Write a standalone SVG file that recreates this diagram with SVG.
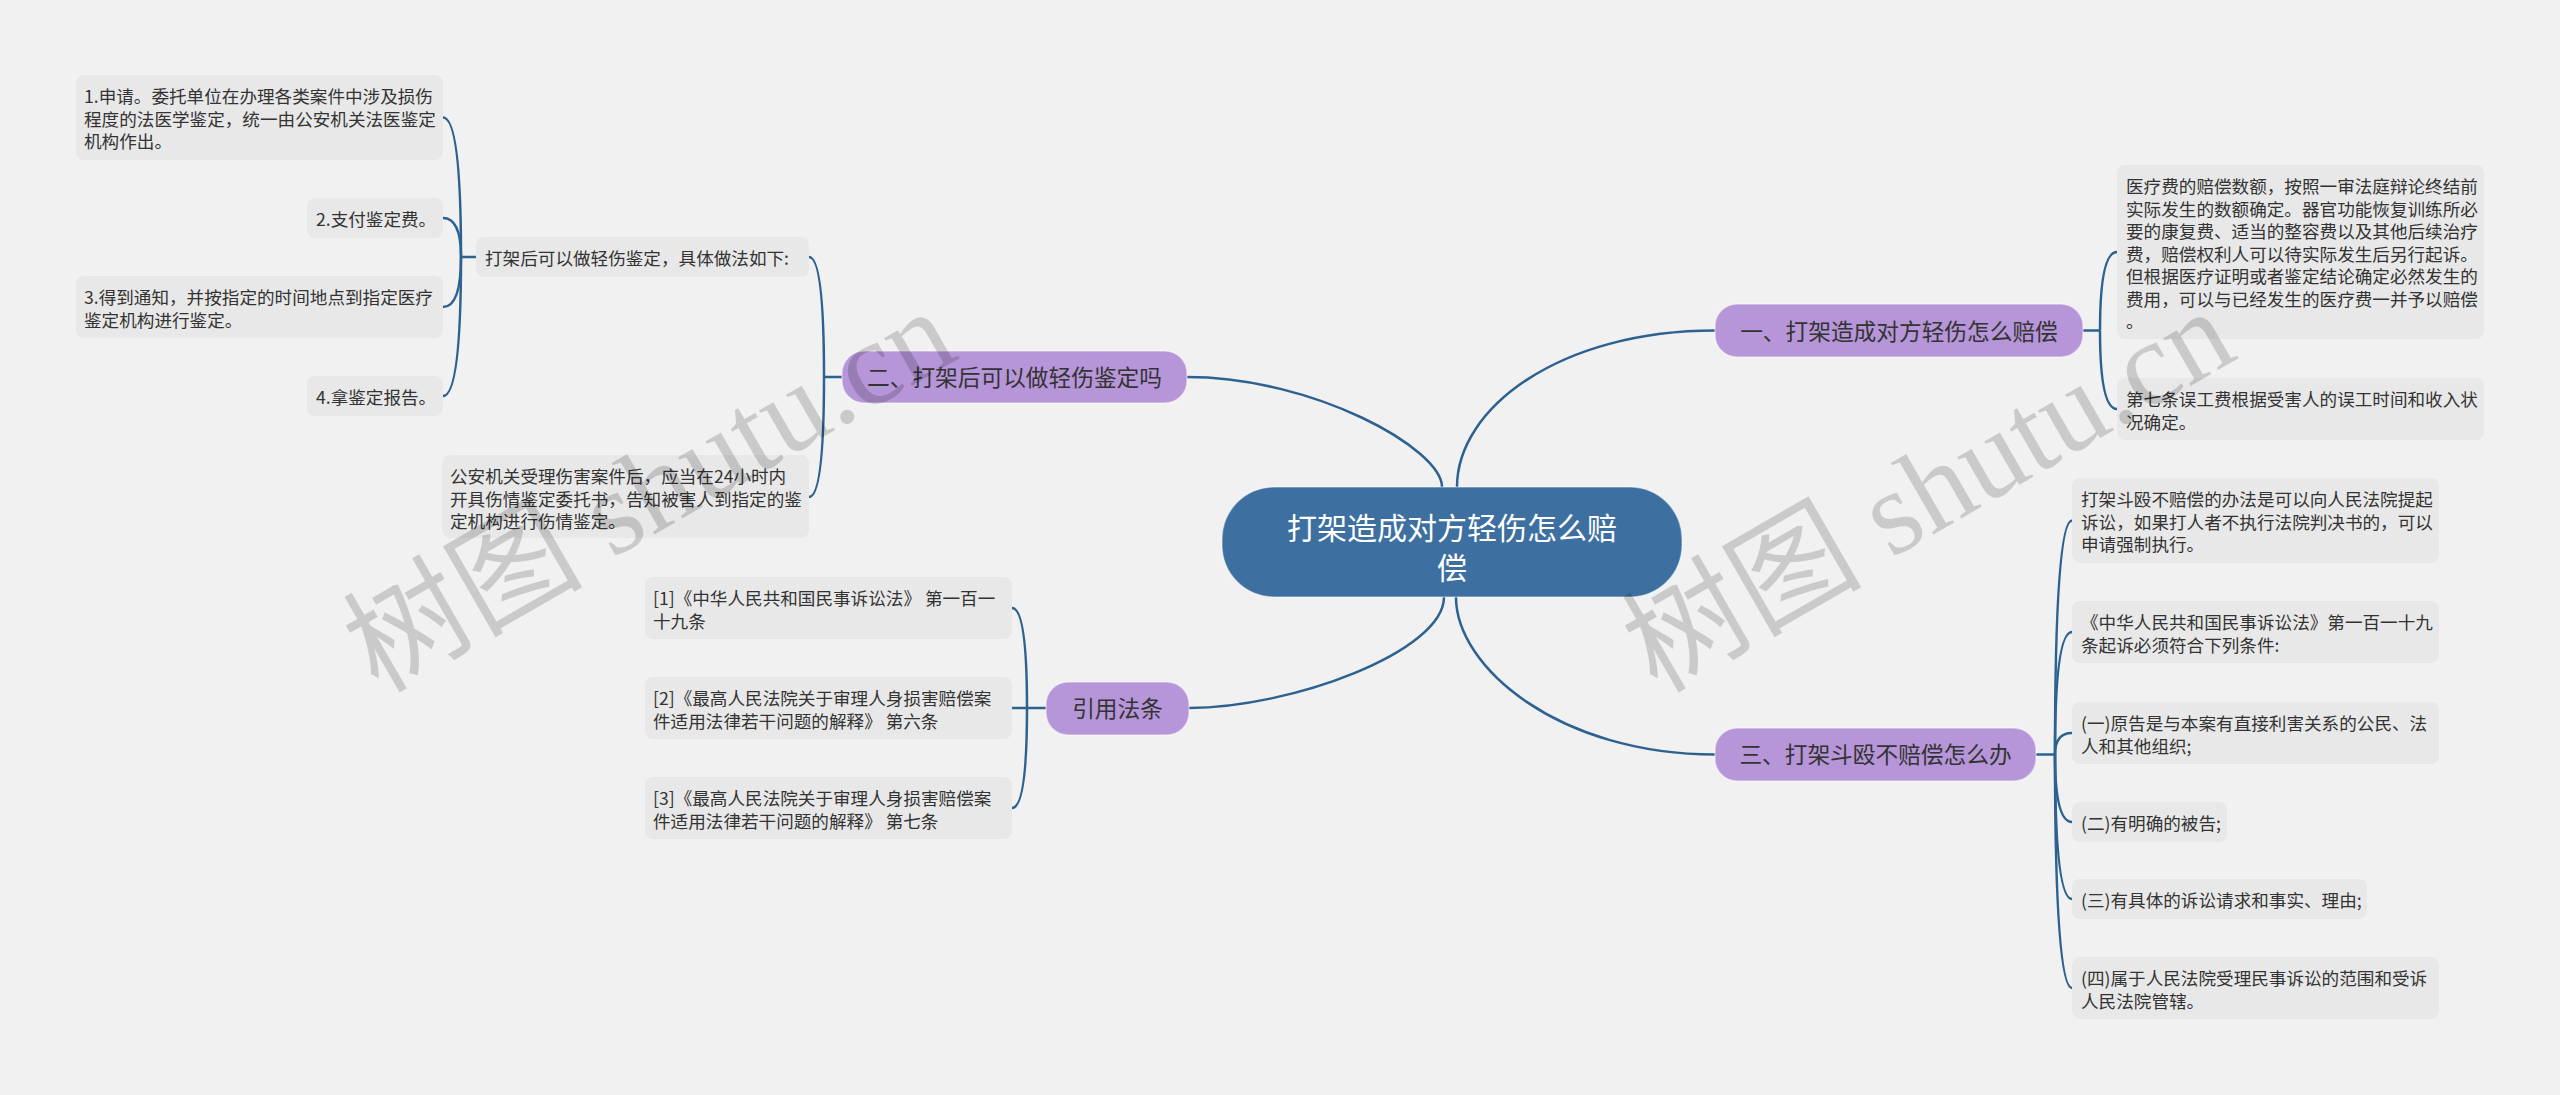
<svg xmlns="http://www.w3.org/2000/svg" width="2560" height="1095" viewBox="0 0 2560 1095">
<style>
.bg{fill:#f1f1f1}
.leaf rect{fill:#e8e8e8}
.leaf text{font-family:"Noto Sans CJK SC","Liberation Sans",sans-serif;font-size:17.6px;fill:#333}
.branch rect{fill:#b696d8;stroke:#ffffff;stroke-opacity:.45;stroke-width:1.5}
.branch text{font-family:"Noto Sans CJK SC","Liberation Sans",sans-serif;font-size:22.7px;fill:#333;text-anchor:middle}
.root rect{fill:#3d70a1;stroke:#ffffff;stroke-opacity:.4;stroke-width:1.5}
.root text{font-family:"Noto Sans CJK SC","Liberation Sans",sans-serif;font-size:30px;fill:#ffffff;text-anchor:middle}
.conn path{fill:none;stroke:#2d6190;stroke-width:2.5}
.wm{font-family:"Liberation Serif","Noto Sans CJK SC",serif;font-size:120px;fill:#000;fill-opacity:.16}
</style>
<rect class="bg" x="0" y="0" width="2560" height="1095"/>

<g id="connectors" class="conn">
  <path d="M1442 487 C1442 449 1314 377 1187 377"/>
  <path d="M1457 487 C1457 408 1560 330.5 1715 330.5"/>
  <path d="M1444 597 C1444 652 1290 708 1189 708"/>
  <path d="M1456 597 C1456 668 1560 754.5 1715 754.5"/>
  <path d="M842 377 H824"/>
  <path d="M824 377 Q824 257 809 257"/>
  <path d="M824 377 Q824 497 809 497"/>
  <path d="M476 257 H461"/>
  <path d="M461 257 Q461 117.5 443 117.5"/>
  <path d="M461 257 Q461 218 443 218"/>
  <path d="M461 257 Q461 307 443 307"/>
  <path d="M461 257 Q461 396 443 396"/>
  <path d="M1046 708 H1027"/>
  <path d="M1027 708 Q1027 608 1012 608"/>
  <path d="M1027 708 H1012"/>
  <path d="M1027 708 Q1027 808 1012 808"/>
  <path d="M2083 330.5 H2100"/>
  <path d="M2100 330.5 Q2100 252 2117 252"/>
  <path d="M2100 330.5 Q2100 409 2117 409"/>
  <path d="M2036 754.5 H2055"/>
  <path d="M2055 754.5 Q2055 520.5 2072 520.5"/>
  <path d="M2055 754.5 Q2055 632 2072 632"/>
  <path d="M2055 754.5 Q2055 733 2072 733"/>
  <path d="M2055 754.5 Q2055 822 2072 822"/>
  <path d="M2055 754.5 Q2055 899 2072 899"/>
  <path d="M2055 754.5 Q2055 988 2072 988"/>
</g>

<g id="root" class="root">
  <rect x="1222" y="487" width="460" height="110" rx="52"/>
  <text x="1452" y="538.5">打架造成对方轻伤怎么赔</text>
  <text x="1452" y="578.5">偿</text>
</g>

<g id="b1" class="branch">
  <rect x="1715" y="304" width="368" height="53" rx="22"/>
  <text x="1899" y="339.6">一、打架造成对方轻伤怎么赔偿</text>
</g>
<g id="b2" class="branch">
  <rect x="842" y="351" width="345" height="52" rx="22"/>
  <text x="1014.5" y="385.6">二、打架后可以做轻伤鉴定吗</text>
</g>
<g id="b3" class="branch">
  <rect x="1715" y="728" width="321" height="53" rx="22"/>
  <text x="1875.5" y="763">三、打架斗殴不赔偿怎么办</text>
</g>
<g id="cite" class="branch">
  <rect x="1046" y="682" width="143" height="53" rx="22"/>
  <text x="1117.5" y="717">引用法条</text>
</g>

<g id="b2a" class="leaf">
  <rect x="476" y="237" width="333" height="40" rx="8"/>
  <text x="485" y="265">打架后可以做轻伤鉴定，具体做法如下:</text>
</g>
<g id="n1" class="leaf">
  <rect x="76" y="75" width="367" height="85" rx="8"/>
  <text x="84" y="103">1.申请。委托单位在办理各类案件中涉及损伤</text>
  <text x="84" y="125.5">程度的法医学鉴定，统一由公安机关法医鉴定</text>
  <text x="84" y="148">机构作出。</text>
</g>
<g id="n2" class="leaf">
  <rect x="307" y="198" width="136" height="40" rx="8"/>
  <text x="316" y="226">2.支付鉴定费。</text>
</g>
<g id="n3" class="leaf">
  <rect x="76" y="276" width="367" height="62" rx="8"/>
  <text x="84" y="304">3.得到通知，并按指定的时间地点到指定医疗</text>
  <text x="84" y="326.5">鉴定机构进行鉴定。</text>
</g>
<g id="n4" class="leaf">
  <rect x="307" y="376" width="136" height="40" rx="8"/>
  <text x="316" y="404">4.拿鉴定报告。</text>
</g>
<g id="b2b" class="leaf">
  <rect x="442" y="455" width="367" height="83" rx="8"/>
  <text x="450" y="483">公安机关受理伤害案件后，应当在24小时内</text>
  <text x="450" y="505.5">开具伤情鉴定委托书，告知被害人到指定的鉴</text>
  <text x="450" y="528">定机构进行伤情鉴定。</text>
</g>

<g id="c1" class="leaf">
  <rect x="645" y="577" width="367" height="62" rx="8"/>
  <text x="653" y="605">[1]《中华人民共和国民事诉讼法》 第一百一</text>
  <text x="653" y="627.5">十九条</text>
</g>
<g id="c2" class="leaf">
  <rect x="645" y="677" width="367" height="62" rx="8"/>
  <text x="653" y="705">[2]《最高人民法院关于审理人身损害赔偿案</text>
  <text x="653" y="727.5">件适用法律若干问题的解释》 第六条</text>
</g>
<g id="c3" class="leaf">
  <rect x="645" y="777" width="367" height="62" rx="8"/>
  <text x="653" y="805">[3]《最高人民法院关于审理人身损害赔偿案</text>
  <text x="653" y="827.5">件适用法律若干问题的解释》 第七条</text>
</g>

<g id="b1a" class="leaf">
  <rect x="2117" y="165" width="367" height="174" rx="8"/>
  <text x="2126" y="193">医疗费的赔偿数额，按照一审法庭辩论终结前</text>
  <text x="2126" y="215.5">实际发生的数额确定。器官功能恢复训练所必</text>
  <text x="2126" y="238">要的康复费、适当的整容费以及其他后续治疗</text>
  <text x="2126" y="260.5">费，赔偿权利人可以待实际发生后另行起诉。</text>
  <text x="2126" y="283">但根据医疗证明或者鉴定结论确定必然发生的</text>
  <text x="2126" y="305.5">费用，可以与已经发生的医疗费一并予以赔偿</text>
  <text x="2126" y="328">。</text>
</g>
<g id="b1b" class="leaf">
  <rect x="2117" y="378" width="367" height="62" rx="8"/>
  <text x="2126" y="406">第七条误工费根据受害人的误工时间和收入状</text>
  <text x="2126" y="428.5">况确定。</text>
</g>

<g id="b3a" class="leaf">
  <rect x="2072" y="478" width="367" height="85" rx="8"/>
  <text x="2081" y="506">打架斗殴不赔偿的办法是可以向人民法院提起</text>
  <text x="2081" y="528.5">诉讼，如果打人者不执行法院判决书的，可以</text>
  <text x="2081" y="551">申请强制执行。</text>
</g>
<g id="b3b" class="leaf">
  <rect x="2072" y="601" width="367" height="62" rx="8"/>
  <text x="2081" y="629">《中华人民共和国民事诉讼法》第一百一十九</text>
  <text x="2081" y="651.5">条起诉必须符合下列条件:</text>
</g>
<g id="b3c" class="leaf">
  <rect x="2072" y="702" width="367" height="62" rx="8"/>
  <text x="2081" y="730">(一)原告是与本案有直接利害关系的公民、法</text>
  <text x="2081" y="752.5">人和其他组织;</text>
</g>
<g id="b3d" class="leaf">
  <rect x="2072" y="802" width="155" height="40" rx="8"/>
  <text x="2081" y="830">(二)有明确的被告;</text>
</g>
<g id="b3e" class="leaf">
  <rect x="2072" y="879" width="295" height="40" rx="8"/>
  <text x="2081" y="907">(三)有具体的诉讼请求和事实、理由;</text>
</g>
<g id="b3f" class="leaf">
  <rect x="2072" y="957" width="367" height="62" rx="8"/>
  <text x="2081" y="985">(四)属于人民法院受理民事诉讼的范围和受诉</text>
  <text x="2081" y="1007.5">人民法院管辖。</text>
</g>

<g id="watermark">
  <text class="wm" x="378" y="694" transform="rotate(-30 378 694)">树图 shutu.cn</text>
  <text class="wm" x="1657" y="694" transform="rotate(-30 1657 694)">树图 shutu.cn</text>
</g>
</svg>
